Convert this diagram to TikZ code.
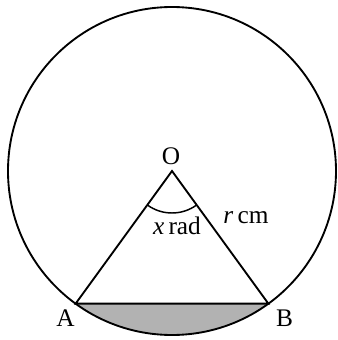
\documentclass[tikz,border=0pt]{standalone}
\usepackage{fontspec}
\setmainfont{Liberation Serif}
\usetikzlibrary{calc}
\begin{document}
\begin{tikzpicture}[x=0.75pt,y=0.75pt,
  outline/.style={line width=1.4pt,draw=black},
  lbl/.style={font=\fontsize{19}{21}\selectfont,inner sep=0pt}]
\useasboundingbox (0,0) rectangle (338,340);
\coordinate (O) at (172,169);
\coordinate (A) at ($(O)+(234:164)$);
\coordinate (B) at ($(O)+(306:164)$);
\fill[black!30] (A) arc[start angle=234,end angle=306,radius=164] -- cycle;
\draw[outline] (O) circle[radius=164];
\draw[outline,line join=miter] (A) -- (O) -- (B) -- cycle;
\draw[line width=1.1pt] ($(O)+(234:42)$) arc[start angle=234,end angle=306,radius=42];
\node[lbl] (lO) at (171,184) {O};
\node[lbl] (lA) at (65.5,21.5) {A};
\node[lbl] (lB) at (284.5,22) {B};
\node[lbl,anchor=base] (lx) at (177,105.5) {\textit{x}\,rad};
\node[lbl,anchor=base] (lr) at (246,117) {\textit{r}\,cm};
\end{tikzpicture}
\end{document}
